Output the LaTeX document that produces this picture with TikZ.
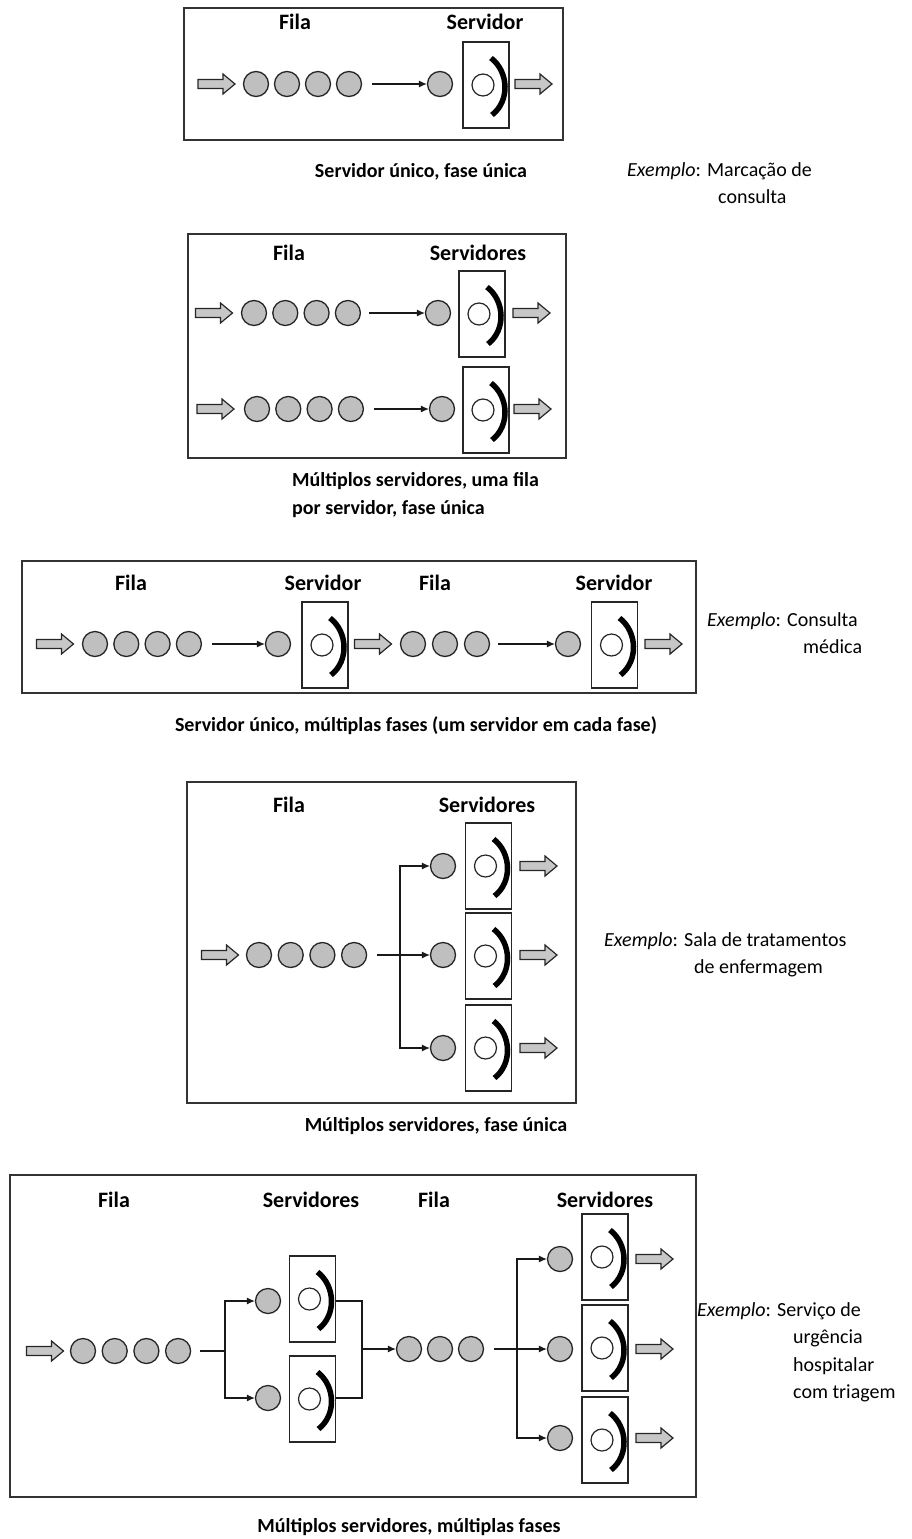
\documentclass[tikz,border=0pt]{standalone}
\usepackage{fontspec}
\setmainfont{Carlito}
\usetikzlibrary{arrows.meta,calc}

\tikzset{
  panel/.style={draw=black!80, line width=1.8pt},
  cust/.style={circle, draw=black!85, fill=black!25, line width=1.3pt, minimum size=25pt, inner sep=0pt},
  srvbox/.style={draw=black!85, line width=1.3pt, minimum width=46pt, minimum height=86pt, inner sep=0pt},
  srvdot/.style={circle, draw=black!85, fill=white, line width=1.2pt, minimum size=22pt, inner sep=0pt},
  srvarc/.style={line width=5.5pt, black},
  blk/.style={draw=black!85, fill=black!22, line width=1.2pt, line join=miter},
  flow/.style={-{Latex[length=8pt,width=7pt]}, line width=1.1pt, black!90},
  wire/.style={line width=1.1pt, black!90},
  hdr/.style={font=\bfseries\fontsize{22}{26}\selectfont, anchor=base, inner sep=0pt},
  capt/.style={font=\bfseries\fontsize{20}{28}\selectfont, anchor=base, inner sep=0pt},
  capml/.style={font=\bfseries\fontsize{20}{28}\selectfont, align=left, anchor=north west, inner sep=0pt},
  expl/.style={font=\fontsize{20}{27.5}\selectfont, align=left, anchor=north west, inner sep=0pt},
}

% a row of waiting customers: prefix, first x, y, count, spacing
\newcommand{\queuerow}[5]{%
  \foreach \k in {1,...,#4}{\node[cust] (#1\k) at ({#2+(\k-1)*#5},#3) {};}%
}
% a service station: framed box, white customer and the bent server mark
\newcommand{\station}[3]{%
  \node[srvbox] (#1) at (#2,#3) {};
  \node[srvdot] (#1c) at ($(#1.center)+(-3,0)$) {};
  \draw[srvarc] ($(#1c)+(8,-27)$) .. controls ($(#1c)+(26,-13)$) and ($(#1c)+(27,16)$) .. ($(#1c)+(9,30)$);
}
% a hollow block arrow pointing right, centred on a named coordinate
\newcommand{\blockarrow}[3]{%
  \coordinate (#1) at (#2,#3);
  \draw[blk] ($(#1)+(-18.5,-4.5)$) -- ++(25,0) -- ++(0,-5.5) -- ($(#1)+(18.5,0)$)
    -- ($(#1)+(6.5,10)$) -- ++(0,-5.5) -- ($(#1)+(-18.5,4.5)$) -- cycle;
}

\begin{document}
\begin{tikzpicture}[x=1pt, y=-1pt]
\useasboundingbox (0,0) rectangle (912,1539);

% ---------- single server, single phase ----------
\draw[panel] (184,8) rectangle (563,140);
\node[hdr] (h1a) at (295,29) {Fila};
\node[hdr] (h1b) at (485,29) {Servidor};
\blockarrow{p1in}{216.5}{84}
\queuerow{p1q}{256}{84}{4}{31}
\node[cust] (p1w) at (440,84) {};
\station{p1s}{486}{85}
\blockarrow{p1out}{533.5}{84}
\draw[flow, shorten <=10pt] (p1q4) -- (p1w);
\node[capt] (c1) at (421,177) {Servidor único, fase única};
\node[expl] (e1) at (627,162) {\textit{Exemplo}: Marcação de\\\hspace*{91pt}consulta};

% ---------- several servers, one queue each ----------
\draw[panel] (188,234) rectangle (566,458);
\node[hdr] (h2a) at (289,260) {Fila};
\node[hdr] (h2b) at (478,260) {Servidores};
\blockarrow{p2in1}{214}{313}
\queuerow{p2q}{254}{313}{4}{31.3}
\node[cust] (p2w1) at (438,313) {};
\station{p2s1}{482}{314}
\blockarrow{p2out1}{531.5}{313}
\draw[flow, shorten <=8pt] (p2q4) -- (p2w1);
\blockarrow{p2in2}{215.5}{409}
\queuerow{p2r}{257}{409}{4}{31.3}
\node[cust] (p2w2) at (442,409) {};
\station{p2s2}{486}{410}
\blockarrow{p2out2}{532.5}{409}
\draw[flow, shorten <=10pt] (p2r4) -- (p2w2);
\node[capml] (c2) at (292,472) {Múltiplos servidores, uma fila\\ por servidor, fase única};

% ---------- single server per phase, two phases ----------
\draw[panel] (22,561) rectangle (696,693);
\node[hdr] (h3a) at (131,590) {Fila};
\node[hdr] (h3b) at (323,590) {Servidor};
\node[hdr] (h3c) at (435,590) {Fila};
\node[hdr] (h3d) at (614,590) {Servidor};
\blockarrow{p3in}{55}{644}
\queuerow{p3q}{95}{644}{4}{31.3}
\node[cust] (p3w1) at (278,644) {};
\station{p3s1}{325}{645}
\blockarrow{p3mid}{373}{644}
\queuerow{p3r}{413}{644}{3}{32}
\node[cust] (p3w2) at (568,644) {};
\station{p3s2}{614.5}{645}
\blockarrow{p3out}{663.5}{644}
\draw[flow, shorten <=10pt] (p3q4) -- (p3w1);
\draw[flow, shorten <=8pt] (p3r3) -- (p3w2);
\node[capt] (c3) at (416,731.5) {Servidor único, múltiplas fases (um servidor em cada fase)};
\node[expl] (e3) at (707,612) {\textit{Exemplo}: Consulta\\\hspace*{96pt}médica};

% ---------- several servers, one shared queue ----------
\draw[panel] (187,782) rectangle (576,1103);
\node[hdr] (h4a) at (289,812) {Fila};
\node[hdr] (h4b) at (487,812) {Servidores};
\blockarrow{p4in}{220}{955}
\queuerow{p4q}{259}{955}{4}{31.7}
\coordinate (p4j) at (400,955);
\node[cust] (p4w1) at (443,866) {};
\node[cust] (p4w2) at (443,955) {};
\node[cust] (p4w3) at (443,1048) {};
\station{p4s1}{488.5}{866}
\station{p4s2}{488.5}{956}
\station{p4s3}{488.5}{1048}
\blockarrow{p4out1}{538.5}{866}
\blockarrow{p4out2}{538.5}{955}
\blockarrow{p4out3}{538.5}{1048}
\draw[flow, shorten <=10pt] (p4q4) -- (p4w2);
\draw[flow] (p4j) |- (p4w1);
\draw[flow] (p4j) |- (p4w3);
\node[capt] (c4) at (436,1131.5) {Múltiplos servidores, fase única};
\node[expl] (e4) at (604,932) {\textit{Exemplo}: Sala de tratamentos\\\hspace*{90pt}de enfermagem};

% ---------- several servers, several phases ----------
\draw[panel] (10,1175) rectangle (696,1497);
\node[hdr] (h5a) at (114,1207) {Fila};
\node[hdr] (h5b) at (311,1207) {Servidores};
\node[hdr] (h5c) at (434,1207) {Fila};
\node[hdr] (h5d) at (605,1207) {Servidores};
\blockarrow{p5in}{45}{1351}
\queuerow{p5q}{83}{1351}{4}{31.7}
\coordinate (p5j1) at (225,1351);
\node[cust] (p5a1) at (268,1301) {};
\node[cust] (p5a2) at (268,1398) {};
\station{p5s1}{312.5}{1299}
\station{p5s2}{312.5}{1399}
\coordinate (p5m) at (362,1349);
\queuerow{p5r}{409}{1349}{3}{31}
\coordinate (p5j2) at (517,1349);
\node[cust] (p5b1) at (560,1259) {};
\node[cust] (p5b2) at (560,1349) {};
\node[cust] (p5b3) at (560,1438) {};
\station{p5t1}{605}{1257}
\station{p5t2}{605}{1348}
\station{p5t3}{605}{1440}
\blockarrow{p5out1}{654.5}{1259}
\blockarrow{p5out2}{654.5}{1349}
\blockarrow{p5out3}{654.5}{1438}
\draw[wire, shorten <=8.5pt] (p5q4) -- (p5j1);
\draw[flow] (p5j1) |- (p5a1);
\draw[flow] (p5j1) |- (p5a2);
\draw[wire] (p5s1.east |- p5a1) -| (p5m);
\draw[wire] (p5s2.east |- p5a2) -| (p5m);
\draw[flow] (p5m) -- (p5r1);
\draw[flow, shorten <=10pt] (p5r3) -- (p5b2);
\draw[flow] (p5j2) |- (p5b1);
\draw[flow] (p5j2) |- (p5b3);
\node[capt] (c5) at (409,1532) {Múltiplos servidores, múltiplas fases};
\node[expl] (e5) at (697,1302) {\textit{Exemplo}: Serviço de\\\hspace*{96pt}urgência\\\hspace*{96pt}hospitalar\\\hspace*{96pt}com triagem};
\end{tikzpicture}
\end{document}
